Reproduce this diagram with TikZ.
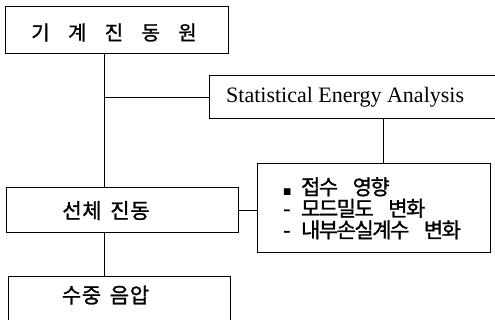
\documentclass[tikz,border=0pt]{standalone}
\usepackage{fontspec}
\newfontfamily\kr[FakeBold=1.2]{Noto Sans CJK KR}
\newfontfamily\tms{Liberation Serif}
\newlength\kcw
\newcommand\kch[1]{\makebox[\kcw][c]{#1}}
\begin{document}
\begin{tikzpicture}[x=1pt,y=-1pt,
  box/.style={draw,line width=1.1pt,inner sep=0pt,anchor=north west},
  link/.style={line width=1pt},
  krtext/.style={font=\kr\fontsize{21}{22}\selectfont,inner sep=0pt},
]
\useasboundingbox (0,0) rectangle (495,320);
\node[box,minimum width=223pt,minimum height=47pt] (b1) at (5,6) {};
\node[krtext,font=\kr\fontsize{20}{22}\selectfont] (t1) at (114,32.5)
  {\setlength\kcw{36.75pt}\kch{기}\kch{계}\kch{진}\kch{동}\kch{원}};
\node[box,minimum width=290pt,minimum height=43pt] (sea) at (209,75) {};
\node[font=\tms\fontsize{22}{24}\selectfont,inner sep=0pt,anchor=base west] (t2) at (226,103) {Statistical Energy Analysis};
\node[box,minimum width=232pt,minimum height=45pt] (b2) at (6,187) {};
\node[krtext] (t3) at (106,210.5)
  {\setlength\kcw{20pt}\kch{선}\kch{체}\hspace{8pt}\kch{진}\kch{동}};
\node[box,minimum width=233pt,minimum height=89pt] (b4) at (257,163) {};
\global\kcw=17.8pt
\node[krtext,anchor=north west,align=left,font=\kr\fontsize{21}{21.5}\selectfont] (t4) at (283,177)
  {\makebox[18.6pt][l]{\fontsize{8}{8}\selectfont■}\kch{접}\kch{수}\hspace{16pt}\kch{영}\kch{향}\\
   \makebox[18.6pt][l]{-}\kch{모}\kch{드}\kch{밀}\kch{도}\hspace{16pt}\kch{변}\kch{화}\\
   \makebox[18.6pt][l]{-}\kch{내}\kch{부}\kch{손}\kch{실}\kch{계}\kch{수}\hspace{16pt}\kch{변}\kch{화}};
\node[box,minimum width=222pt,minimum height=60pt] (b3) at (8,276) {};
\node[krtext] (t5) at (105.5,295)
  {\setlength\kcw{20pt}\kch{수}\kch{중}\hspace{8pt}\kch{음}\kch{압}};
\coordinate (j1) at (104,98);
\coordinate (j2) at (383,0);
\draw[link] (j1 |- b1.south) -- (j1 |- b2.north);
\draw[link] (j1) -- (j1 -| sea.west);
\draw[link] (j2 |- sea.south) -- (j2 |- b4.north);
\draw[link] (b2.east) -- (b2.east -| b4.west);
\draw[link] (j1 |- b2.south) -- (j1 |- b3.north);
\end{tikzpicture}
\end{document}
